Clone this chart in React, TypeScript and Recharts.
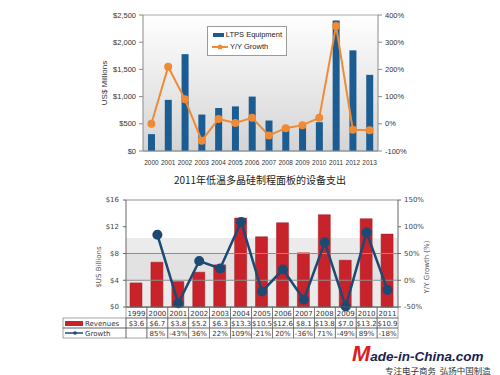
import React from 'react'
import {
  ComposedChart,
  Bar,
  Line,
  XAxis,
  YAxis,
  CartesianGrid,
  Legend,
  ReferenceArea,
  ReferenceLine
} from 'recharts'

// top chart: LTPS equipment spending
const topYears = ['2000', '2001', '2002', '2003', '2004', '2005', '2006', '2007', '2008', '2009', '2010', '2011', '2012', '2013']
const topSpend = [310, 940, 1780, 670, 790, 820, 1000, 560, 460, 440, 530, 2400, 1850, 1400]
const topGrowth = [0, 210, 90, -62, 18, 3, 22, -43, -16, -5, 22, 360, -22, -24]
const topLeftTicks = [0, 500, 1000, 1500, 2000, 2500]
const topRightTicks = [-100, 0, 100, 200, 300, 400]

// bottom chart: revenues with table
const botYears = ['1999', '2000', '2001', '2002', '2003', '2004', '2005', '2006', '2007', '2008', '2009', '2010', '2011']
const botRevenue = [3.6, 6.7, 3.8, 5.2, 6.3, 13.3, 10.5, 12.6, 8.1, 13.8, 7.0, 13.2, 10.9]
const botGrowth = [null, 85, -43, 36, 22, 109, -21, 20, -36, 71, -49, 89, -18]
const botLeftTicks = [0, 4, 8, 12, 16]
const botRightTicks = [-50, 0, 50, 100, 150]

const topData = topYears.map((year, i) => ({ year, spend: topSpend[i], growth: topGrowth[i] }))
const botData = botYears.map((year, i) => ({ year, revenue: botRevenue[i], growth: botGrowth[i] }))

const BLUE = '#1b5c93'
const ORANGE = '#f08a34'
const RED = '#c8232b'
const NAVY = '#1c4a73'

const BOT_LEFT_W = 126
const BOT_RIGHT_W = 102
const CELL_W = (500 - BOT_LEFT_W - BOT_RIGHT_W) / botYears.length

const TopLegend = (props: any) => {
  const { payload } = props
  return (
    <div style={{ border: '1px solid #9a9a9a', background: '#fff', padding: '2px 4px', width: 70, fontSize: 7.5, color: '#222', lineHeight: '12px', fontFamily: 'Liberation Sans', whiteSpace: 'nowrap' }}>
      {payload.map((p: any) => (
        <div key={p.value} style={{ display: 'flex', alignItems: 'center' }}>
          <svg width={16} height={8} style={{ marginRight: 2 }}>
            {p.type === 'rect' ? (
              <rect x={1} y={2} width={14} height={4} fill={p.color} />
            ) : (
              <g>
                <line x1={0} y1={4} x2={16} y2={4} stroke={p.color} strokeWidth={2} />
                <circle cx={8} cy={4} r={2.5} fill={p.color} />
              </g>
            )}
          </svg>
          <span>{p.value}</span>
        </div>
      ))}
    </div>
  )
}

const TableTick = (props: any) => {
  const { x, y, payload } = props
  const i = payload.index
  const left = x - CELL_W / 2
  const rev = botRevenue[i]
  const g = botGrowth[i]
  const rows = [y, y + 11, y + 21, y + 31]
  return (
    <g fontSize={7} fill='#333' fontFamily='DejaVu Sans'>
      {i === 0 && (
        <g>
          <rect x={63} y={rows[1]} width={BOT_LEFT_W - 63} height={10} fill='none' stroke='#666' strokeWidth={0.6} />
          <rect x={63} y={rows[2]} width={BOT_LEFT_W - 63} height={10} fill='none' stroke='#666' strokeWidth={0.6} />
          <rect x={65} y={rows[1] + 3} width={18} height={5} fill={RED} />
          <text x={85} y={rows[1] + 8} fill='#333'>Revenues</text>
          <line x1={65} y1={rows[2] + 5} x2={83} y2={rows[2] + 5} stroke={NAVY} strokeWidth={1.5} />
          <circle cx={75} cy={rows[2] + 5} r={1.8} fill={NAVY} />
          <text x={85} y={rows[2] + 8} fill='#333'>Growth</text>
        </g>
      )}
      <rect x={left} y={rows[0]} width={CELL_W} height={11} fill='none' stroke='#666' strokeWidth={0.6} />
      <rect x={left} y={rows[1]} width={CELL_W} height={10} fill='none' stroke='#666' strokeWidth={0.6} />
      <rect x={left} y={rows[2]} width={CELL_W} height={10} fill='none' stroke='#666' strokeWidth={0.6} />
      <text x={x} y={rows[0] + 8.5} textAnchor='middle'>{payload.value}</text>
      <text x={x} y={rows[1] + 8} textAnchor='middle'>{'$' + rev.toFixed(1)}</text>
      {g !== null && <text x={x} y={rows[2] + 8} textAnchor='middle'>{g + '%'}</text>}
    </g>
  )
}

export default function App() {
  return (
    <div style={{ position: 'absolute', left: 0, top: 0, width: 500, height: 375, background: '#fff', overflow: 'hidden', fontFamily: 'Liberation Sans' }}>
      <div style={{ position: 'absolute', left: 0, top: 0 }}>
        <ComposedChart width={500} height={170} data={topData} margin={{ top: 15, right: 0, bottom: 0, left: 0 }}>
          <defs>
            <linearGradient id='topBg' x1='0' y1='0' x2='0' y2='1'>
              <stop offset='0%' stopColor='#ffffff' />
              <stop offset='100%' stopColor='#d4d4d4' />
            </linearGradient>
          </defs>
          <CartesianGrid vertical={false} stroke='#a8a8a8' fill='url(#topBg)' />
          <XAxis
            dataKey='year'
            height={19}
            tickLine={false}
            axisLine={{ stroke: '#8a8a8a' }}
            tick={{ fontSize: 6.5, fill: '#333', fontFamily: 'Liberation Sans' }}
            tickMargin={3}
            interval={0}
          />
          <YAxis
            yAxisId='left'
            width={143}
            domain={[0, 2500]}
            ticks={topLeftTicks}
            tickFormatter={(v: number) => '$' + v.toLocaleString('en-US')}
            tick={{ fontSize: 7.5, fill: '#333', fontFamily: 'Liberation Sans' }}
            axisLine={{ stroke: '#8a8a8a' }}
            tickLine={{ stroke: '#8a8a8a' }}
            tickSize={4}
            tickMargin={3}
          />
          <YAxis
            yAxisId='right'
            orientation='right'
            width={122}
            domain={[-100, 400]}
            ticks={topRightTicks}
            tickFormatter={(v: number) => v + '%'}
            tick={{ fontSize: 7.5, fill: '#333', fontFamily: 'Liberation Sans', textAnchor: 'start' }}
            axisLine={{ stroke: '#8a8a8a' }}
            tickLine={{ stroke: '#8a8a8a' }}
            tickSize={4}
            tickMargin={3}
          />
          <Legend
            layout='horizontal'
            verticalAlign='middle'
            align='center'
            content={TopLegend}
            wrapperStyle={{ left: 207, top: 26, width: 80 }}
          />
          <Bar yAxisId='left' dataKey='spend' name='LTPS Equipment' fill={BLUE} barSize={7} isAnimationActive={false} legendType='rect' />
          <Line
            yAxisId='right'
            dataKey='growth'
            name='Y/Y Growth'
            stroke={ORANGE}
            strokeWidth={2}
            dot={{ r: 3, fill: ORANGE, stroke: ORANGE }}
            isAnimationActive={false}
            legendType='line'
          />
        </ComposedChart>
      </div>
      <div style={{ position: 'absolute', left: 104, top: 83, transform: 'translate(-50%, -50%) rotate(-90deg)', fontSize: 8, color: '#333', fontFamily: 'Liberation Sans', whiteSpace: 'nowrap' }}>
        US$ Millions
      </div>

      <div style={{ position: 'absolute', left: 0, width: 520, top: 172, textAlign: 'center', fontSize: 10, color: '#222', fontFamily: "'Noto Sans CJK SC'", whiteSpace: 'nowrap' }}>
        2011年低温多晶硅制程面板的设备支出
      </div>

      <div style={{ position: 'absolute', left: 0, top: 190 }}>
        <ComposedChart width={500} height={150} data={botData} margin={{ top: 10, right: 0, bottom: 0, left: 0 }} barCategoryGap={0}>
          <CartesianGrid vertical={false} stroke='#8f8f8f' />
          <ReferenceArea yAxisId='left' y1={0} y2={4} fill='#ebebeb' fillOpacity={1} stroke='none' />
          <ReferenceArea yAxisId='left' y1={4} y2={8} fill='#e2e2e2' fillOpacity={1} stroke='none' />
          <ReferenceArea yAxisId='left' y1={8} y2={10.3} fill='#ebebeb' fillOpacity={1} stroke='none' />
          <ReferenceLine yAxisId='left' y={4} stroke='#8f8f8f' />
          <ReferenceLine yAxisId='left' y={8} stroke='#8f8f8f' />
          <XAxis
            dataKey='year'
            height={33}
            interval={0}
            tickLine={false}
            tickSize={0}
            tickMargin={0}
            axisLine={{ stroke: '#666' }}
            tick={(p: any) => <TableTick {...p} />}
          />
          <YAxis
            yAxisId='left'
            width={BOT_LEFT_W}
            domain={[0, 16]}
            ticks={botLeftTicks}
            tickFormatter={(v: number) => '$' + v}
            tick={{ fontSize: 7, fill: '#444', fontFamily: 'DejaVu Sans' }}
            axisLine={{ stroke: '#666' }}
            tickLine={{ stroke: '#666' }}
            tickSize={3}
            tickMargin={4}
          />
          <YAxis
            yAxisId='right'
            orientation='right'
            width={BOT_RIGHT_W}
            domain={[-50, 150]}
            ticks={botRightTicks}
            tickFormatter={(v: number) => v + '%'}
            tick={{ fontSize: 7, fill: '#444', fontFamily: 'DejaVu Sans', textAnchor: 'start' }}
            axisLine={{ stroke: '#666' }}
            tickLine={{ stroke: '#666' }}
            tickSize={3}
            tickMargin={3}
          />
          <Bar yAxisId='left' dataKey='revenue' fill={RED} stroke='#a01820' strokeWidth={0.5} barSize={12} isAnimationActive={false} />
          <Line
            yAxisId='right'
            dataKey='growth'
            stroke={NAVY}
            strokeWidth={2.5}
            dot={{ r: 3.8, fill: NAVY, stroke: NAVY }}
            isAnimationActive={false}
          />
        </ComposedChart>
      </div>
      <div style={{ position: 'absolute', left: 99, top: 267, transform: 'translate(-50%, -50%) rotate(-90deg)', fontSize: 7, color: '#555', fontFamily: 'DejaVu Sans', whiteSpace: 'nowrap' }}>
        $US Billions
      </div>
      <div style={{ position: 'absolute', left: 427, top: 267, transform: 'translate(-50%, -50%) rotate(-90deg)', fontSize: 7, color: '#555', fontFamily: 'DejaVu Sans', whiteSpace: 'nowrap' }}>
        Y/Y Growth (%)
      </div>

      <div style={{ position: 'absolute', left: 352, top: 344, lineHeight: '19px', whiteSpace: 'nowrap', fontFamily: 'Liberation Sans', fontStyle: 'italic', fontWeight: 'bold' }}>
        <span style={{ color: '#e01b22', fontSize: 22 }}>M</span>
        <span style={{ color: '#1b1d4e', fontSize: 13.5 }}>ade-in-China.com</span>
      </div>
      <div style={{ position: 'absolute', left: 385, top: 365, lineHeight: '10px', whiteSpace: 'nowrap', fontSize: 8.5, color: '#333', fontFamily: "'Noto Sans CJK SC'" }}>
        专注电子商务&nbsp;&nbsp;弘扬中国制造
      </div>
    </div>
  )
}
